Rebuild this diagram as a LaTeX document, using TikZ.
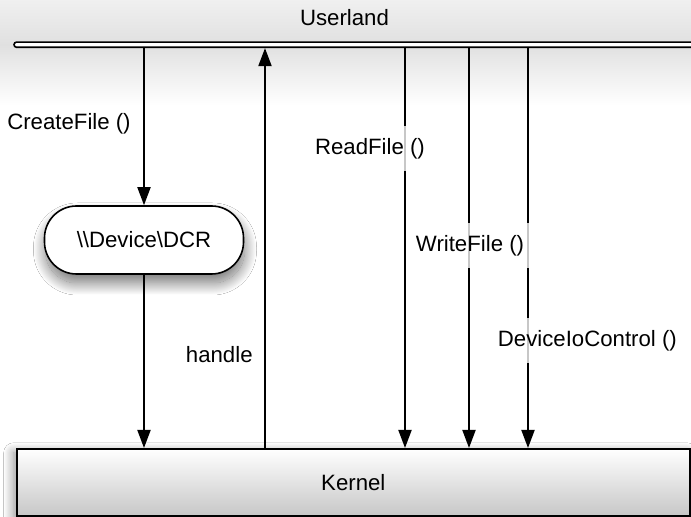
\documentclass[tikz,border=0pt]{standalone}
\usepackage{fontspec}
\setmainfont{Liberation Sans}
\usetikzlibrary{arrows.meta,shadows.blur}
\begin{document}
\begin{tikzpicture}[x=0.5pt,y=-0.5pt,
  every node/.style={font=\fontsize{11.1}{13.3}\selectfont},
  flow/.style={line width=0.95pt,-{Triangle[width=6.5pt,length=9pt]}},
  callbox/.style={fill=white,fill opacity=0.78,text opacity=1,
    minimum height=22.5pt,inner xsep=3pt,inner ysep=0pt},
  plainlabel/.style={inner sep=0pt},
  barstyle/.style={draw,line width=0.8pt,fill=white,rounded corners=1.3pt,
    minimum width=343pt,minimum height=2.6pt,inner sep=0pt},
  kernelbox/.style={draw,line width=0.8pt,top color=white,bottom color=black!22,
    minimum width=336.6pt,minimum height=33.6pt,inner sep=0pt,
    blur shadow={shadow xshift=-1.5pt,shadow yshift=-2pt,
      shadow blur radius=5pt,shadow opacity=45,shadow blur steps=25}},
  devbox/.style={draw,line width=0.8pt,fill=white,rounded corners=16pt,
    minimum width=99.5pt,minimum height=34pt,inner sep=0pt,
    blur shadow={shadow xshift=0.5pt,shadow yshift=-4.5pt,
      shadow blur radius=6pt,shadow opacity=55,shadow blur steps=30}}]
\useasboundingbox (0,0) rectangle (691,517);
\clip (0,0) rectangle (691,517);
\fill[white] (0,0) rectangle (691,517);

% soft haze around the userland bar
\shade[top color=black!6,bottom color=black!12] (0,0) rectangle (691,45);
\shade[top color=black!12,bottom color=white] (0,45) rectangle (691,105);

% the two layers and the device object
\node[barstyle] (bar) at (357,44.7) {};
\node[kernelbox] (kernel) at (353.3,482.4) {Kernel};
\node[devbox] (dcr) at (144,240) {\textbackslash\textbackslash Device\textbackslash DCR};

% columns of the calls
\coordinate (hx) at (265,0);
\coordinate (rx) at (405,0);
\coordinate (wx) at (469,0);
\coordinate (ix) at (528,0);

% connectors
\draw[flow] (bar.south -| dcr.north) -- (dcr.north);
\draw[flow] (dcr.south) -- (dcr.south |- kernel.north);
\draw[flow] (kernel.north -| hx) -- (bar.south -| hx);
\draw[flow] (bar.south -| rx) -- (kernel.north -| rx);
\draw[flow] (bar.south -| wx) -- (kernel.north -| wx);
\draw[flow] (bar.south -| ix) -- (kernel.north -| ix);

% labels
\node[plainlabel] (lu) at (344.5,18) {Userland};
\node[plainlabel] (lc) at (69,124) {CreateFile ()};
\node[plainlabel] (lh) at (219.3,355) {handle};
\node[callbox] (lr) at (370,149) {ReadFile ()};
\node[callbox] (lw) at (470,245.7) {WriteFile ()};
\node[callbox] (li) at (587.4,341) {DeviceIoControl ()};
\end{tikzpicture}
\end{document}
